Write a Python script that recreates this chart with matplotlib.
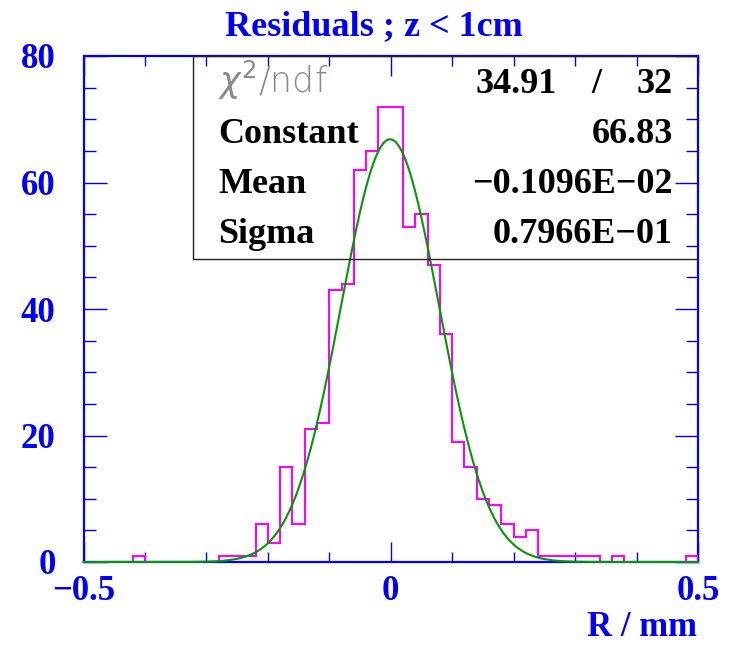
import numpy as np
import matplotlib
matplotlib.use('Agg')
import matplotlib.pyplot as plt
from matplotlib.patches import Rectangle
from matplotlib.ticker import MultipleLocator, FixedLocator

# histogram: 50 bins from -0.5 to 0.5 (R / mm)
bin_edges = np.linspace(-0.5, 0.5, 51)
counts = [0, 0, 0, 0, 1, 0, 0, 0, 0, 0,
          0, 1, 1, 1, 6, 3, 15, 6, 21, 22,
          43, 44, 62, 65, 72, 72, 53, 55, 47, 36,
          19, 15, 10, 9, 6, 4, 5, 1, 1, 1,
          1, 1, 0, 1, 0, 0, 0, 0, 0, 1]

# gaussian fit results
fit_constant = 66.83
fit_mean = -0.1096e-02
fit_sigma = 0.7966e-01
chi2 = 34.91
ndf = 32

title = 'Residuals ; z < 1cm'
xlabel = 'R / mm'
stat_names = ['Constant', 'Mean', 'Sigma']
stat_values = ['66.83', '\u22120.1096E\u221202', '0.7966E\u221201']

BLUE = '#0000ff'
MAGENTA = '#ff00ff'
GREEN = '#009a00'
SERIF = 'Liberation Serif'


def main():
    fig = plt.figure(figsize=(7.34, 6.46), dpi=100)
    ax = fig.add_axes([83.5 / 734, 1 - 562 / 646, (698 - 83.5) / 734, (562 - 56) / 646])

    ax.stairs(counts, bin_edges, color=MAGENTA, lw=1.5, zorder=3)
    xs = np.linspace(-0.5, 0.5, 600)
    ax.plot(xs, fit_constant * np.exp(-0.5 * ((xs - fit_mean) / fit_sigma) ** 2),
            color=GREEN, lw=1.5, zorder=4, clip_on=False)

    ax.set_xlim(-0.5, 0.5)
    ax.set_ylim(0, 80)

    # ticks
    ax.xaxis.set_major_locator(FixedLocator([-0.5, 0, 0.5]))
    ax.xaxis.set_minor_locator(MultipleLocator(0.1))
    ax.yaxis.set_major_locator(MultipleLocator(20))
    ax.yaxis.set_minor_locator(MultipleLocator(5))
    ax.set_xticklabels(['\u22120.5', '0', '0.5'])
    ax.tick_params(axis='both', which='both', direction='in', colors=BLUE,
                   top=True, right=True, width=1)
    ax.tick_params(axis='x', which='major', length=14.4, pad=9)
    ax.tick_params(axis='x', which='minor', length=7.2)
    ax.tick_params(axis='y', which='major', length=16.3, pad=20)
    ax.tick_params(axis='y', which='minor', length=8.6)
    for lab in ax.get_xticklabels() + ax.get_yticklabels():
        lab.set_fontfamily(SERIF)
        lab.set_fontweight('bold')
        lab.set_fontsize(25)
        lab.set_color(BLUE)
    for sp in ax.spines.values():
        sp.set_color(BLUE)
        sp.set_linewidth(1.6)
        sp.set_zorder(2)

    fig.text(374 / 734, 1 - 35 / 646, title, ha='center', va='baseline',
             family=SERIF, weight='bold', size=26, color=BLUE)
    fig.text(697 / 734, 1 - 636 / 646, xlabel, ha='right', va='baseline',
             family=SERIF, weight='bold', size=25, color=BLUE)

    # stats box
    bx0 = (193 - 83.5) / (698 - 83.5)
    by0 = (562 - 259) / (562 - 56)
    ax.add_patch(Rectangle((bx0, by0), 1 - bx0, 1 - by0, transform=ax.transAxes,
                           facecolor='none', edgecolor='#222222', lw=1, zorder=5))
    tx = 218 / 734
    vx = 673 / 734
    fig.text(tx, 1 - 93 / 646, r'$\chi^{2}$/ndf', ha='left', va='baseline',
             family='DejaVu Sans', weight='light', size=25, color='#8a8a8a', zorder=6)
    fig.text(557 / 734, 1 - 93 / 646, '%.2f' % chi2, ha='right', va='baseline',
             family=SERIF, weight='bold', size=26, zorder=6)
    fig.text(596 / 734, 1 - 93 / 646, '/', ha='center', va='baseline',
             family=SERIF, weight='bold', size=26, zorder=6)
    fig.text(vx, 1 - 93 / 646, str(ndf), ha='right', va='baseline',
             family=SERIF, weight='bold', size=26, zorder=6)
    for i, (name, val) in enumerate(zip(stat_names, stat_values)):
        y = 1 - (143 + 50 * i) / 646
        fig.text(tx, y, name, ha='left', va='baseline',
                 family=SERIF, weight='bold', size=26, zorder=6)
        fig.text(vx, y, val, ha='right', va='baseline',
                 family=SERIF, weight='bold', size=26, zorder=6)

    fig.savefig('out.png', dpi=100)


if __name__ == '__main__':
    plt.rcParams['mathtext.fontset'] = 'dejavusans'
    main()
